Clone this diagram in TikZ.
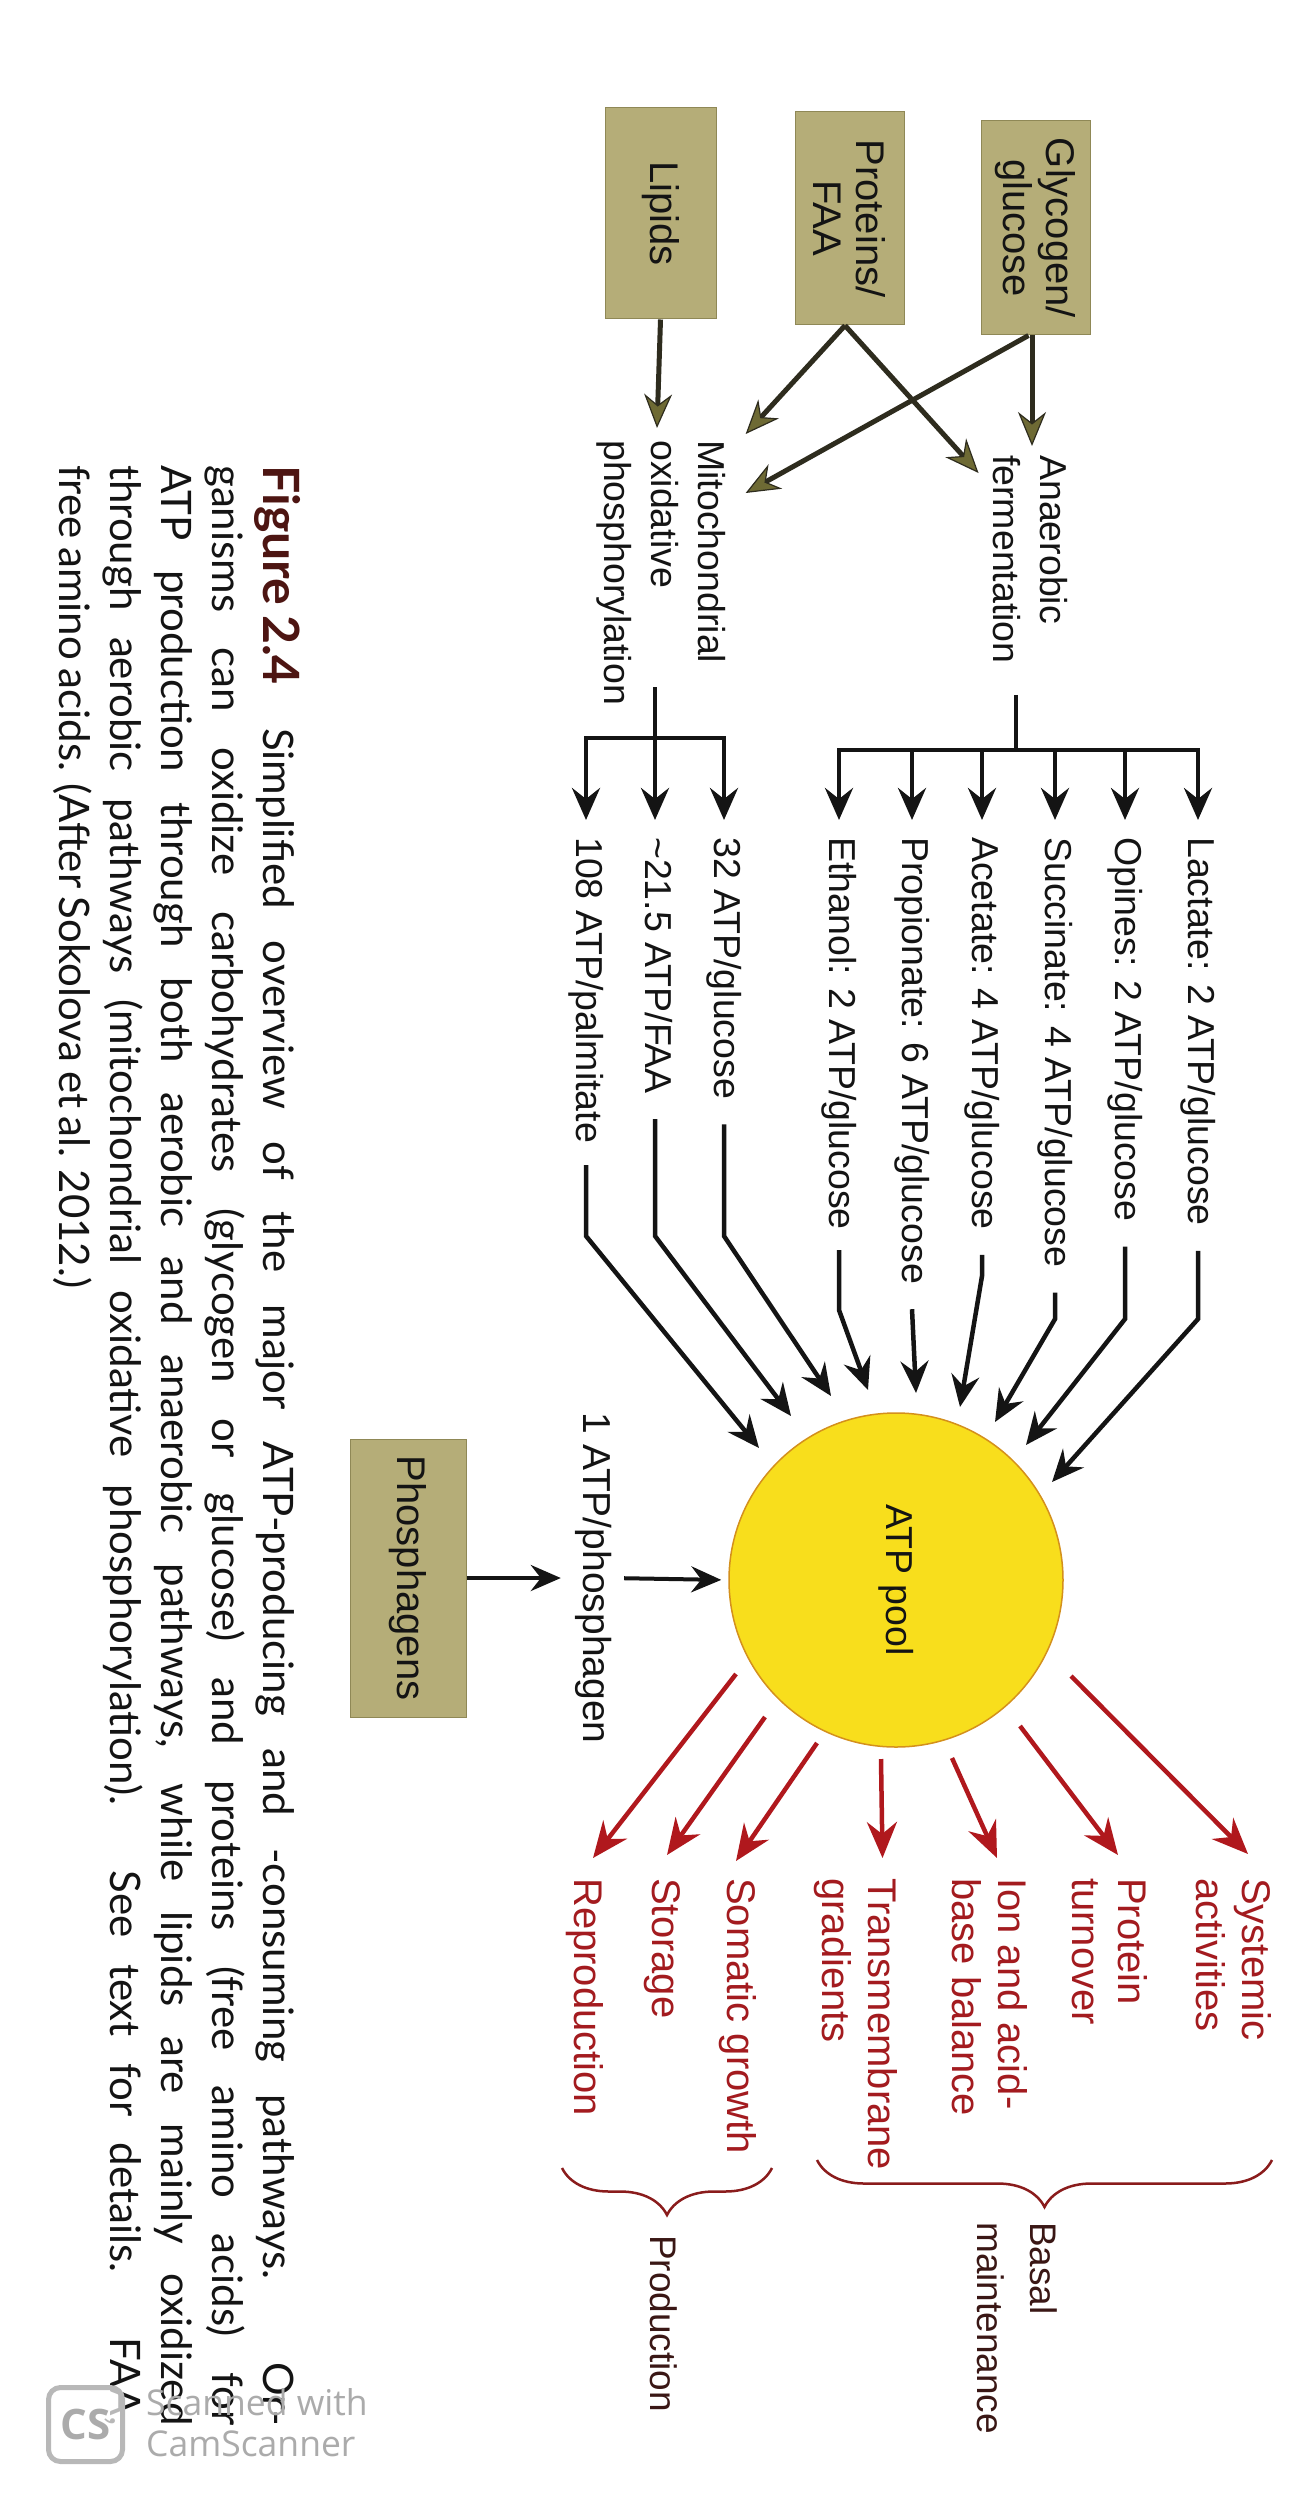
\documentclass[tikz,border=0pt]{standalone}
\usepackage{fontspec}
\setmainfont{Liberation Sans}
\newfontfamily\capfont{Lato}[WordSpace={0.8,1.6,1.5}]
\newfontfamily\wmfont{Open Sans}
\usetikzlibrary{arrows.meta,calc,decorations.pathreplacing}

\definecolor{boxfill}{HTML}{B5AD78}
\definecolor{boxedge}{HTML}{8F8856}
\definecolor{olivehead}{HTML}{6E6A34}
\definecolor{oliveline}{HTML}{2E2C1E}
\definecolor{ink}{HTML}{141414}
\definecolor{poolfill}{HTML}{F8DE1C}
\definecolor{pooledge}{HTML}{D4901C}
\definecolor{sinkred}{HTML}{B0181D}
\definecolor{sinktext}{HTML}{A31B1F}
\definecolor{bracered}{HTML}{8A1C1C}
\definecolor{bracetext}{HTML}{3A1715}
\definecolor{figred}{HTML}{4D1512}
\definecolor{wmgray}{HTML}{ABABAB}

\begin{document}
\begin{tikzpicture}[x=1pt,y=-1pt,
  srcbox/.style={rectangle, fill=boxfill, draw=boxedge, line width=1pt, rotate=-90,
    inner sep=0pt, align=center, font=\fontsize{40}{43}\selectfont, text=ink},
  lab/.style={rotate=-90, anchor=west, inner sep=0pt, font=\fontsize{37.5}{47}\selectfont,
    text=ink, text height=28pt, text depth=8pt},
  mlab/.style={rotate=-90, anchor=west, inner sep=0pt, align=left,
    font=\fontsize{37.5}{47}\selectfont, text=ink},
  sink/.style={rotate=-90, anchor=west, inner sep=0pt, align=left,
    font=\fontsize{40}{46}\selectfont, text=sinktext},
  sink1/.style={sink, text height=30pt, text depth=8.5pt},
  grp/.style={rotate=-90, anchor=west, inner sep=0pt, align=left,
    font=\fontsize{37}{53}\selectfont, text=bracetext},
  seg/.style={draw=ink, line width=4.5pt},
  blk/.style={draw=ink, line width=4.5pt, -{Stealth[length=32pt,width=28pt,inset=11pt]}},
  blkboth/.style={draw=ink, line width=4.5pt,
    {Stealth[length=32pt,width=28pt,inset=11pt]}-{Stealth[length=32pt,width=28pt,inset=11pt]},
    shorten <=17pt, shorten >=17pt},
  blkthin/.style={draw=ink, line width=4pt, -{Stealth[length=30pt,width=26pt,inset=10pt]}},
  olv/.style={draw=oliveline, line width=5pt,
    -{Stealth[length=34pt,width=28pt,inset=11pt,color=oliveline,fill=olivehead,line width=1.2pt]}},
  redarr/.style={draw=sinkred, line width=4.5pt, -{Stealth[length=36pt,width=30pt,inset=12pt]}},
  brc/.style={draw=bracered, line width=2.5pt, decorate,
    decoration={brace, amplitude=47pt, aspect=0.5}},
]
\useasboundingbox (0,0) rectangle (1312,2496);
\fill[white] (0,0) rectangle (1312,2496);

% ---------- energy sources ----------
\node[srcbox, minimum width=214pt, minimum height=109pt] (glyc) at (1035.5,228) {Glycogen/\\glucose};
\node[srcbox, minimum width=213pt, minimum height=109pt] (prot) at (849.5,218.5) {Proteins/\\FAA};
\node[srcbox, minimum width=211pt, minimum height=111pt] (lip) at (660.5,213.5) {Lipids};
\node[srcbox, minimum width=278pt, minimum height=116pt] (phos) at (408,1578) {Phosphagens};

% ---------- pathways ----------
\node[mlab] (anaer) at (1030,455) {Anaerobic\\fermentation};
\node[mlab] (mito) at (661,440) {Mitochondrial\\oxidative\\phosphorylation};

% ---------- end products and yields ----------
\node[lab] (lac) at (1198,837) {Lactate: 2 ATP/glucose};
\node[lab] (opi) at (1125,837) {Opines: 2 ATP/glucose};
\node[lab] (suc) at (1055,837) {Succinate: 4 ATP/glucose};
\node[lab] (ace) at (982,837) {Acetate: 4 ATP/glucose};
\node[lab] (pro) at (912,837) {Propionate: 6 ATP/glucose};
\node[lab] (eth) at (839,837) {Ethanol: 2 ATP/glucose};
\node[lab] (glc) at (724,837) {32 ATP/glucose};
\node[lab] (faa) at (655,837) {\textasciitilde 21.5 ATP/FAA};
\node[lab] (pal) at (586,837) {108 ATP/palmitate};

% ---------- ATP pool ----------
\node[circle, rotate=-90, fill=poolfill, draw=pooledge, line width=1.5pt, minimum size=334pt,
  inner sep=0pt, font=\fontsize{37.5}{45}\selectfont, text=ink] (pool) at (896,1580) {ATP pool};
\node[lab, anchor=center, font=\fontsize{39}{45}\selectfont] (plab) at (593,1578) {1 ATP/phosphagen};

% ---------- ATP sinks ----------
\node[sink] (sys) at (1234,1878) {Systemic\\activities};
\node[sink] (ptn) at (1110,1878) {Protein\\turnover};
\node[sink] (ion) at (989.5,1878) {Ion and acid-\\base balance};
\node[sink] (tmg) at (855.5,1878) {Transmembrane\\gradients};
\node[sink1] (som) at (738,1878) {Somatic growth};
\node[sink1] (sto) at (663,1878) {Storage};
\node[sink1] (rep) at (585,1878) {Reproduction};

\node[grp] (basal) at (1017,2222) {Basal\\maintenance};
\node[grp, text height=27pt, text depth=8pt] (prod) at (660,2235) {Production};

% ---------- sources to pathways ----------
\draw[olv] ([xshift=-3.5pt]glyc.east) -- ([shift={(2,-9)}]anaer.west);
\draw[olv] ([xshift=-7pt]glyc.east) -- ([shift={(20,53)}]mito.north west);
\draw[olv] ([xshift=-4.5pt]prot.east) -- ([shift={(20,-6)}]mito.north west);
\draw[olv] ([xshift=-4.5pt]prot.east) -- ([shift={(-14,18)}]anaer.south west);
\draw[olv] (lip.east) -- ([shift={(-4,-12)}]mito.west);

% ---------- fermentation branches ----------
\coordinate (aBar) at (1016,750);
\draw[seg] ([shift={(-14,31)}]anaer.east) -- (aBar);
\draw[blkboth] (lac.west) -- (lac.west |- aBar) -- (eth.west |- aBar) -- (eth.west);
\foreach \n in {opi,suc,ace,pro}
  \draw[blk, shorten >=17pt] (\n.west |- aBar) -- (\n.west);

% ---------- oxidative branches ----------
\coordinate (mBar) at (655,738);
\draw[seg] ([shift={(-6,-18)}]mito.east) -- (mBar);
\draw[blkboth] (glc.west) -- (glc.west |- mBar) -- (pal.west |- mBar) -- (pal.west);
\draw[blk, shorten >=17pt] (faa.west |- mBar) -- (faa.west);

% ---------- yields into the ATP pool ----------
\coordinate (bendA) at (0,1319);
\coordinate (bendB) at (0,1276);
\coordinate (bendC) at (0,1310);
\coordinate (bendD) at (0,1236);
\draw[blk] ([yshift=-25pt]lac.east) -- (lac.east |- bendA) -- ($(pool.center)+(156,-98)$);
\draw[blk] ([yshift=-25pt]opi.east) -- (opi.east |- bendA) -- ($(pool.center)+(130,-135)$);
\draw[blk] ([yshift=-25pt]suc.east) -- (suc.east |- bendA) -- ($(pool.center)+(99,-158)$);
\draw[blk] ([yshift=-25pt]ace.east) -- (ace.east |- bendB) -- ($(pool.center)+(64,-173)$);
\draw[blk] ([yshift=-25pt]pro.east) -- ($(pool.center)+(20,-187)$);
\draw[blk] ([yshift=-20pt]eth.east) -- (eth.east |- bendC) -- ($(pool.center)+(-28,-190)$);
\draw[blk] ([yshift=-25pt]glc.east) -- (glc.east |- bendD) -- ($(pool.center)+(-65,-184)$);
\draw[blk] ([yshift=-25pt]faa.east) -- (faa.east |- bendD) -- ($(pool.center)+(-105,-164)$);
\draw[blk] ([yshift=-22pt]pal.east) -- (pal.east |- bendD) -- ($(pool.center)+(-137,-132)$);

% ---------- phosphagens ----------
\draw[blkthin, shorten >=14pt] (phos.north) -- (plab.south);
\draw[blkthin, shorten <=13pt, shorten >=7pt] (plab.north) -- (pool.south);

% ---------- ATP use ----------
\draw[redarr] ($(pool.center)+(175,96)$) -- ([shift={(14,-24)}]sys.west);
\draw[redarr] ($(pool.center)+(124,146)$) -- ([shift={(8,-23)}]ptn.west);
\draw[redarr] ($(pool.center)+(56,178)$) -- ([shift={(7.5,-20)}]ion.west);
\draw[redarr] ($(pool.center)+(-15,179)$) -- ([shift={(27,-20)}]tmg.west);
\draw[redarr] ($(pool.center)+(-79,163)$) -- ([shift={(-2,-17)}]som.west);
\draw[redarr] ($(pool.center)+(-131,137)$) -- ([shift={(4,-23)}]sto.west);
\draw[redarr] ($(pool.center)+(-160,94)$) -- ([shift={(8,-20)}]rep.west);

% ---------- groupings ----------
\draw[brc] (1272,2160) -- (817,2160);
\draw[brc] (772,2168) -- (562,2168);

% ---------- caption ----------
\node[rotate=-90, anchor=north west, inner sep=0pt, text width=1960pt, align=justify,
  font=\capfont\fontsize{42}{51}\selectfont, text=ink] (cap) at (301,465)
  {\makebox[263pt][l]{\textcolor{figred}{\bfseries\fontsize{50}{51}\selectfont Figure 2.4}}Simplified overview of the major ATP-producing and -consuming pathways. Or-\linebreak
   ganisms can oxidize carbohydrates (glycogen or glucose) and proteins (free amino acids) for\linebreak
   ATP production through both aerobic and anaerobic pathways, while lipids are mainly oxidized\linebreak
   through aerobic pathways (mitochondrial oxidative phosphorylation). See text for details. FAA,\linebreak
   free amino acids. (After Sokolova et al. 2012.)};

% ---------- scanner mark ----------
\node[draw=wmgray!85, line width=5pt, rounded corners=12pt, minimum size=74pt, fill=white,
  fill opacity=0.7, text opacity=1, inner sep=0pt, text=wmgray,
  font=\wmfont\bfseries\fontsize{42}{42}\selectfont] (cs) at (85.5,2424.5) {CS};
\node[anchor=west, inner sep=0pt, align=left, text=wmgray,
  font=\wmfont\fontsize{35.5}{41}\selectfont] (wm) at (146,2423) {Scanned with\\CamScanner};
\end{tikzpicture}
\end{document}
